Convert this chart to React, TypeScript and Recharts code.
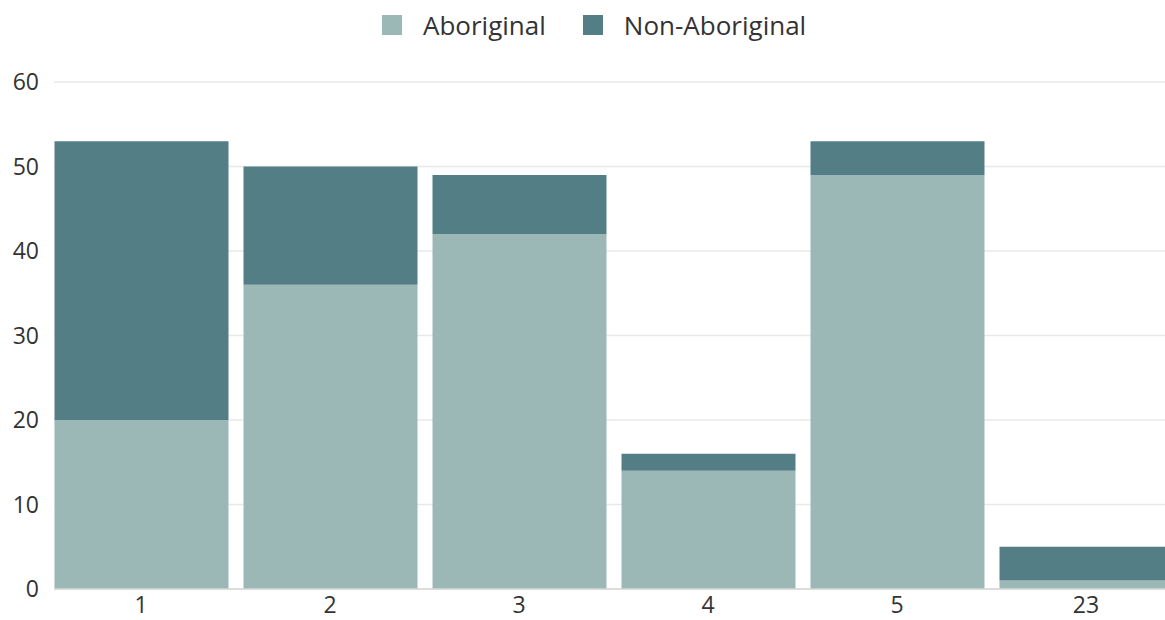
import { BarChart, Bar, XAxis, YAxis, CartesianGrid, Legend } from 'recharts';

const categories = ['1', '2', '3', '4', '5', '23'];
const aboriginal = [20, 36, 42, 14, 49, 1];
const nonAboriginal = [33, 14, 7, 2, 4, 4];
const yTicks = [0, 10, 20, 30, 40, 50, 60];

const LIGHT = '#9bb8b7';
const DARK = '#547e86';

const data = categories.map((name, i) => ({
    name,
    aboriginal: aboriginal[i],
    nonAboriginal: nonAboriginal[i],
}));

function ChartLegend() {
    const items = [
        { label: 'Aboriginal', color: LIGHT },
        { label: 'Non-Aboriginal', color: DARK },
    ];
    return (
        <div style={{ height: 82, display: 'flex', alignItems: 'flex-start', paddingLeft: 382, paddingTop: 11, boxSizing: 'border-box' }}>
            {items.map((item, i) => (
                <div key={item.label} style={{ display: 'flex', alignItems: 'center', marginRight: i === 0 ? 37 : 0 }}>
                    <span style={{ width: 20, height: 20, background: item.color, marginRight: 21, display: 'inline-block' }} />
                    <span style={{ fontSize: 26, color: '#333', lineHeight: '28px' }}>{item.label}</span>
                </div>
            ))}
        </div>
    );
}

export default function App() {
    return (
        <div style={{ position: 'fixed', left: 0, top: 0, width: 1165, height: 620, overflow: 'hidden', background: '#fff', fontFamily: '"Open Sans", sans-serif' }}>
            <BarChart width={1200} height={620} data={data} margin={{ top: 0, right: 12, bottom: 0, left: 0 }}>
                <Legend verticalAlign="top" content={() => <ChartLegend />} wrapperStyle={{ top: 0, left: 0, width: 1165, margin: 0 }} />
                <CartesianGrid vertical={false} stroke="#e8e8e8" strokeWidth={1.5} />
                <XAxis
                    dataKey="name"
                    height={31}
                    padding={{ left: -7.5, right: 7.5 }}
                    tickLine={false}
                    axisLine={{ stroke: '#d6d6d6', strokeWidth: 1.5 }}
                    tickMargin={2}
                    tick={{ fill: '#333', fontSize: 23 }}
                />
                <YAxis
                    width={54}
                    domain={[0, 60]}
                    ticks={yTicks}
                    tickLine={false}
                    axisLine={false}
                    tickMargin={9}
                    tick={{ fill: '#333', fontSize: 23 }}
                />
                <Bar dataKey="aboriginal" stackId="a" fill={LIGHT} barSize={174} isAnimationActive={false} />
                <Bar dataKey="nonAboriginal" stackId="a" fill={DARK} barSize={174} isAnimationActive={false} />
            </BarChart>
        </div>
    );
}
